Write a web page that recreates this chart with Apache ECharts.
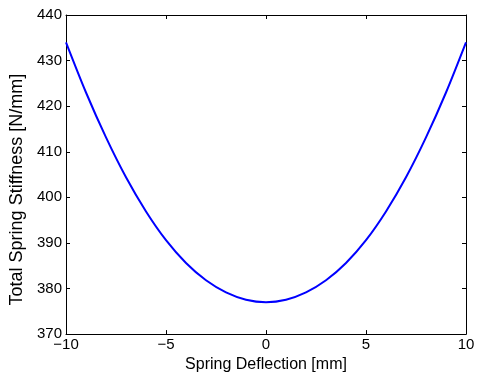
<!DOCTYPE html>
<html>
<head>
<meta charset="utf-8">
<script src="https://cdn.jsdelivr.net/npm/echarts@6/dist/echarts.min.js"></script>
<style>
  html, body { margin: 0; padding: 0; background: #fff; }
  #chart { width: 480px; height: 378px; }
</style>
</head>
<body>
<div id="chart"></div>
<script>
// spring deflection [mm]
const deflection = [-10, -9, -8, -7, -6, -5, -4, -3, -2, -1, 0, 1, 2, 3, 4, 5, 6, 7, 8, 9, 10]
// total spring stiffness [N/mm]
const stiffness = [434.0, 423.0, 413.15, 404.4, 396.9, 390.6, 385.6, 381.8, 379.15, 377.55, 377.0,
  377.55, 379.15, 381.8, 385.6, 390.6, 396.9, 404.4, 413.15, 423.0, 434.0]

const font = 'Liberation Sans, Arial, Helvetica, sans-serif'
const minus = (v) => String(v).replace('-', '\u2212')

const axisCommon = {
  axisLine: { show: true, onZero: false, lineStyle: { color: '#000', width: 1 } },
  axisTick: { show: true, inside: true, length: 4, lineStyle: { color: '#000' } },
  splitLine: { show: false },
}

const chart = echarts.init(document.getElementById('chart'))
chart.setOption({
  animation: false,
  backgroundColor: '#fff',
  grid: { left: 66, right: 14, top: 15, bottom: 38 },
  xAxis: [
    {
      ...axisCommon,
      type: 'value',
      position: 'bottom',
      min: -10,
      max: 10,
      interval: 5,
      name: 'Spring Deflection [mm]',
      nameLocation: 'middle',
      nameGap: 19,
      nameTextStyle: { color: '#000', fontSize: 16, fontFamily: font },
      axisLabel: { color: '#000', fontSize: 15, fontFamily: font, margin: 3, formatter: minus },
    },
    {
      ...axisCommon,
      type: 'value',
      position: 'top',
      min: -10,
      max: 10,
      interval: 5,
      axisLabel: { show: false },
    },
  ],
  yAxis: [
    {
      ...axisCommon,
      type: 'value',
      position: 'left',
      min: 370,
      max: 440,
      interval: 10,
      name: 'Total Spring Stiffness [N/mm]',
      nameLocation: 'middle',
      nameGap: 33,
      nameTextStyle: { color: '#000', fontSize: 18, fontFamily: font, padding: [0, 30, 0, 0] },
      axisLabel: { color: '#000', fontSize: 15, fontFamily: font, margin: 4 },
    },
    {
      ...axisCommon,
      type: 'value',
      position: 'right',
      min: 370,
      max: 440,
      interval: 10,
      axisLabel: { show: false },
    },
  ],
  series: [
    {
      type: 'line',
      data: deflection.map((x, i) => [x, stiffness[i]]),
      smooth: 0.3,
      showSymbol: false,
      lineStyle: { color: '#0000ff', width: 2 },
    },
  ],
})
</script>
</body>
</html>
